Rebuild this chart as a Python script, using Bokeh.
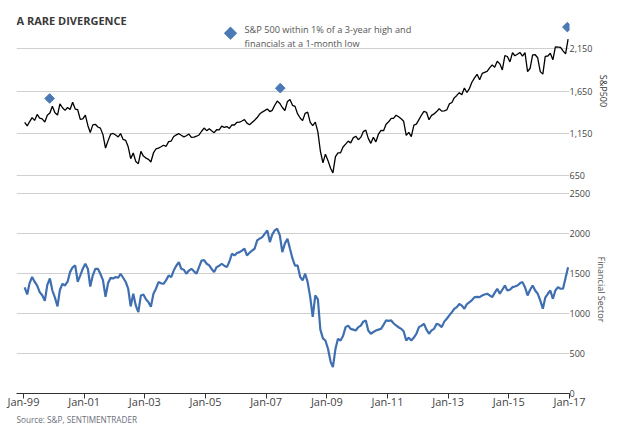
import numpy as np
import pandas as pd
from datetime import datetime
from bokeh.plotting import figure
from bokeh.layouts import column
from bokeh.models import (Range1d, FixedTicker, NumeralTickFormatter, DatetimeTickFormatter,
                          Label, PolyAnnotation, ColumnDataSource, Title)
from bokeh.embed import file_html
from bokeh.resources import INLINE

# ---------------- data (monthly, Jan-1999 .. Dec-2016) ----------------
sp500 = [
    1280, 1238, 1286, 1335, 1302, 1373, 1329, 1320, 1283, 1363, 1389, 1469,   # 1999
    1394, 1366, 1499, 1452, 1421, 1455, 1431, 1518, 1437, 1429, 1315, 1320,   # 2000
    1366, 1240, 1160, 1249, 1256, 1224, 1211, 1134, 975, 1060, 1139, 1148,    # 2001
    1130, 1107, 1147, 1077, 1067, 990, 850, 916, 815, 790, 936, 880,          # 2002
    856, 841, 810, 917, 964, 975, 990, 1008, 996, 1051, 1058, 1112,           # 2003
    1131, 1145, 1126, 1107, 1121, 1141, 1102, 1104, 1115, 1130, 1174, 1212,   # 2004
    1181, 1204, 1181, 1157, 1192, 1191, 1234, 1220, 1229, 1207, 1249, 1248,   # 2005
    1280, 1281, 1295, 1311, 1270, 1250, 1277, 1304, 1336, 1378, 1401, 1418,   # 2006
    1438, 1407, 1421, 1482, 1531, 1503, 1455, 1420, 1527, 1549, 1481, 1468,   # 2007
    1379, 1331, 1300, 1386, 1400, 1280, 1240, 1283, 1166, 940, 800, 903,      # 2008
    826, 735, 680, 873, 919, 919, 987, 1021, 1057, 1036, 1096, 1115,          # 2009
    1074, 1104, 1169, 1187, 1089, 1031, 1102, 1049, 1141, 1183, 1181, 1258,   # 2010
    1286, 1327, 1326, 1364, 1345, 1321, 1292, 1125, 1160, 1110, 1247, 1258,   # 2011
    1312, 1366, 1408, 1398, 1310, 1362, 1379, 1407, 1441, 1412, 1416, 1426,   # 2012
    1498, 1515, 1569, 1598, 1631, 1606, 1686, 1633, 1682, 1757, 1806, 1848,   # 2013
    1783, 1859, 1872, 1884, 1924, 1960, 1931, 2003, 1972, 1900, 2068, 2059,   # 2014
    1995, 2105, 2068, 2086, 2107, 2063, 2104, 1880, 1920, 2079, 2080, 2044,   # 2015
    1880, 1850, 2060, 2065, 2097, 2020, 2174, 2171, 2168, 2126, 2090, 2265,   # 2016
]

financials = [
    1330, 1240, 1380, 1460, 1400, 1350, 1270, 1230, 1160, 1360, 1440, 1290,   # 1999
    1200, 1090, 1300, 1374, 1353, 1400, 1520, 1580, 1604, 1400, 1480, 1562,   # 2000
    1625, 1560, 1340, 1480, 1562, 1562, 1500, 1420, 1210, 1380, 1450, 1440,   # 2001
    1458, 1450, 1500, 1450, 1400, 1312, 1090, 1249, 1100, 1020, 1228, 1240,   # 2002
    1180, 1144, 1085, 1250, 1312, 1395, 1380, 1374, 1420, 1479, 1458, 1540,   # 2003
    1600, 1645, 1562, 1550, 1500, 1540, 1562, 1530, 1500, 1583, 1666, 1670,   # 2004
    1625, 1604, 1560, 1520, 1583, 1600, 1625, 1600, 1583, 1650, 1750, 1729,   # 2005
    1760, 1771, 1790, 1813, 1729, 1763, 1790, 1813, 1917, 1940, 1959, 2000,   # 2006
    2042, 1896, 1990, 2042, 2063, 1980, 1771, 1880, 1938, 1813, 1688, 1600,   # 2007
    1604, 1460, 1416, 1500, 1395, 1207, 960, 1228, 1180, 800, 690, 664,       # 2008
    560, 400, 330, 560, 685, 664, 720, 831, 850, 810, 800, 789,               # 2009
    831, 850, 900, 915, 789, 748, 770, 789, 800, 810, 860, 915,               # 2010
    910, 915, 880, 852, 830, 810, 780, 664, 700, 664, 700, 748,               # 2011
    831, 850, 873, 800, 748, 790, 810, 873, 860, 831, 900, 936,               # 2012
    978, 1020, 1060, 1082, 1123, 1100, 1061, 1120, 1144, 1170, 1207, 1210,    # 2013
    1207, 1228, 1240, 1249, 1230, 1207, 1260, 1312, 1249, 1300, 1353, 1290,   # 2014
    1300, 1332, 1340, 1353, 1380, 1395, 1332, 1228, 1300, 1353, 1290, 1250,   # 2015
    1166, 1061, 1200, 1249, 1290, 1186, 1290, 1332, 1312, 1312, 1450, 1580,   # 2016
]

signal_dates = ["1999-11-12", "2007-06-20", "2016-12-06"]
signal_marks = [1562, 1684, 2407]

sp_ticks = [650, 1150, 1650, 2150]
fin_ticks = [0, 500, 1000, 1500, 2000, 2500]
tick_years = [1999, 2001, 2003, 2005, 2007, 2009, 2011, 2013, 2015, 2017]

title_text = "A RARE DIVERGENCE"
legend_lines = ["S&P 500 within 1% of a 3-year high and", "financials at a 1-month low"]
source_text = "Source: S&P, SENTIMENTRADER"

# ---------------- build ----------------
months = pd.date_range("1999-01-01", "2016-12-01", freq="MS") + pd.Timedelta(days=14)
src = ColumnDataSource(dict(date=months, sp=sp500, fin=financials))
sig = ColumnDataSource(dict(date=pd.to_datetime(signal_dates), y=signal_marks))

FONT = "Open Sans"
BLUE = "#3f6fb0"
MARK = "#4a79b6"
GRID = "#cfcfcf"

x_range = Range1d(datetime(1998, 10, 9), datetime(2017, 1, 1))

p1 = figure(x_axis_type="datetime", x_range=x_range, y_range=Range1d(579, 2722),
            frame_width=553, frame_height=181, x_axis_location=None, y_axis_location="right",
            min_border_left=16, min_border_right=49, min_border_top=0, min_border_bottom=0,
            output_backend="svg", toolbar_location=None)
p2 = figure(x_axis_type="datetime", x_range=x_range, y_range=Range1d(0, 2605),
            frame_width=553, frame_height=208, y_axis_location="right",
            min_border_left=16, min_border_right=49, min_border_top=4, min_border_bottom=38,
            output_backend="svg", toolbar_location=None)

for p, lab, col, ticks in ((p1, "S&P500", "#333333", sp_ticks),
                           (p2, "Financial Sector", "#555555", fin_ticks)):
    p.outline_line_color = None
    p.background_fill_color = "white"
    p.border_fill_color = "white"
    for g in p.xgrid:
        g.visible = False
    ax = p.yaxis[0]
    ticker = FixedTicker(ticks=ticks)
    ax.ticker = ticker
    for g in p.ygrid:
        g.ticker = ticker
        g.grid_line_color = GRID
        g.grid_line_width = 1
        g.grid_line_alpha = 1.0
        g.visible = True
    ax.axis_line_color = None
    ax.major_tick_line_color = None
    ax.minor_tick_line_color = None
    ax.major_tick_out = 0
    ax.major_tick_in = 0
    ax.minor_tick_out = 0
    ax.major_label_standoff = 0
    ax.major_label_text_font = FONT
    ax.major_label_text_font_size = "9px"
    ax.major_label_text_color = "#444444"
    ax.axis_label = lab
    ax.axis_label_standoff = 2
    ax.axis_label_text_font = FONT
    ax.axis_label_text_font_style = "normal"
    ax.axis_label_text_font_size = "9px"
    ax.axis_label_text_color = col

p1.yaxis[0].formatter = NumeralTickFormatter(format="0,0")
p2.yaxis[0].formatter = NumeralTickFormatter(format="0")

xa = p2.xaxis[0]
xa.ticker = FixedTicker(ticks=[datetime(y, 1, 1).timestamp() * 1000 for y in tick_years])
fmt = "%b-%y"
xa.formatter = DatetimeTickFormatter(years=fmt, months=fmt, days=fmt, hours=fmt,
                                     minutes=fmt, seconds=fmt, milliseconds=fmt)
xa.axis_line_color = "#333333"
xa.major_tick_line_color = "#333333"
xa.major_tick_out = 5
xa.major_tick_in = 0
xa.minor_tick_line_color = None
xa.minor_tick_out = 0
xa.major_label_standoff = -5
xa.major_label_text_font = FONT
xa.major_label_text_font_size = "11px"
xa.major_label_text_color = "#444444"

p2.add_layout(Title(text=source_text, align="left", standoff=0, offset=0,
                    text_font=FONT, text_font_size="8.2px", text_font_style="normal",
                    text_color="#6a6f7a"), "below")

p1.line("date", "sp", source=src, line_color="black", line_width=1.3)
p1.scatter("date", "y", source=sig, marker="square", angle=np.pi / 4, size=6.8,
           fill_color=MARK, line_color=MARK)
p2.line("date", "fin", source=src, line_color=BLUE, line_width=2.2)

# ---------------- annotations inside the top frame (screen px from frame bottom-left) ----------------
p1.add_layout(Label(x=0, y=161, x_units="screen", y_units="screen", text=title_text,
                    text_font=FONT, text_font_style="bold", text_font_size="11px",
                    text_color="#3a3a3a", text_baseline="middle"))
p1.add_layout(PolyAnnotation(xs=[214, 220.5, 214, 207.5], ys=[154.8, 148.3, 141.8, 148.3],
                             xs_units="screen", ys_units="screen",
                             fill_color=MARK, fill_alpha=1, line_color=MARK))
for txt, yy in zip(legend_lines, [151.7, 138.3]):
    p1.add_layout(Label(x=228, y=yy, x_units="screen", y_units="screen", text=txt,
                        text_font=FONT, text_font_size="9.2px", text_color="#555555",
                        text_baseline="middle"))

layout = column(p1, p2)
open("out.html", "w").write(file_html(layout, INLINE))
